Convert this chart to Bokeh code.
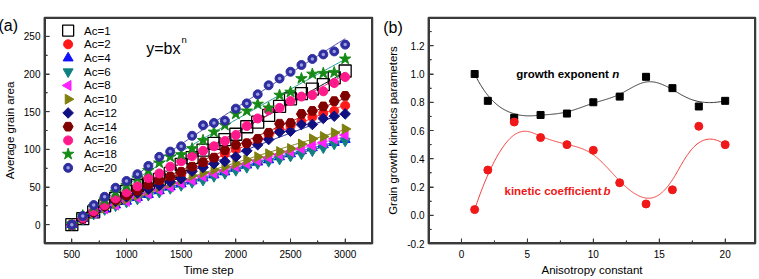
import numpy as np
from bokeh.plotting import figure
from bokeh.layouts import row
from bokeh.models import FixedTicker, PrintfTickFormatter, Label, Range1d
from bokeh.embed import file_html
from bokeh.resources import INLINE

FONT = "Liberation Sans"

# ---------------- data: panel (a) ----------------
time_steps = [500, 600, 700, 800, 900, 1000, 1100, 1200, 1300, 1400, 1500, 1600, 1700,
              1800, 1900, 2000, 2100, 2200, 2300, 2400, 2500, 2600, 2700, 2800, 2900, 3000]

area_ac1 = [0, 8, 17, 25, 35, 44, 52, 54, 60, 68, 80, 89, 99, 108, 113, 120, 130, 136,
            145, 157, 167, 174, 180, 186, 195, 204]
area_ac2 = [0, 8, 16, 23, 30, 36, 42, 48, 54, 60, 66, 72, 79, 88, 94, 100, 108, 113,
            119, 126, 131, 137, 143, 148, 151, 158]
area_ac4 = [0, 8, 15, 21, 26, 31, 36, 40, 45, 50, 54, 58, 62, 66, 70, 75, 79, 83,
            86, 90, 94, 98, 102, 106, 109, 113]
area_ac6 = [0, 7, 14, 20, 25, 30, 34, 39, 43, 48, 52, 56, 59, 64, 68, 72, 76, 81,
            84, 87, 91, 94, 98, 102, 107, 111]
area_ac8 = [0, 8, 15, 21, 26, 31, 36, 41, 46, 50, 55, 59, 64, 68, 72, 77, 81, 85,
            89, 93, 97, 101, 105, 109, 114, 119]
area_ac10 = [0, 8, 15, 22, 28, 34, 39, 45, 50, 55, 60, 65, 69, 73, 77, 81, 86, 90,
             94, 97, 101, 107, 114, 117, 122, 127]
area_ac12 = [0, 8, 16, 24, 31, 37, 42, 47, 52, 57, 61, 71, 76, 81, 84, 90, 98, 106,
             113, 123, 124, 133, 133, 141, 144, 147]
area_ac14 = [0, 8, 17, 25, 33, 39, 45, 53, 59, 64, 70, 77, 83, 89, 99, 106, 108, 114,
             122, 134, 135, 147, 151, 157, 164, 171]
area_ac16 = [0, 9, 18, 26, 35, 43, 51, 62, 68, 77, 84, 91, 98, 104, 111, 119, 131, 141,
             152, 155, 164, 170, 172, 177, 188, 196]
area_ac18 = [0, 12, 24, 33, 43, 52, 62, 72, 82, 90, 93, 101, 112, 123, 132, 147, 151, 160,
             155, 172, 176, 194, 200, 201, 202, 220]
area_ac20 = [0, 11.5, 26, 37, 49, 58, 67, 78, 90, 97, 104, 118, 132, 135, 138, 154, 161,
             173, 185, 194, 203, 212, 220, 226, 230, 239]

legend_labels = ["Ac=1", "Ac=2", "Ac=4", "Ac=6", "Ac=8", "Ac=10", "Ac=12", "Ac=14",
                 "Ac=16", "Ac=18", "Ac=20"]

# ---------------- data: panel (b) ----------------
anisotropy = [1, 2, 4, 6, 8, 10, 12, 14, 16, 18, 20]
growth_exponent_n = [1.00, 0.81, 0.69, 0.71, 0.72, 0.80, 0.84, 0.98, 0.90, 0.77, 0.81]
kinetic_coeff_b = [0.04, 0.32, 0.66, 0.55, 0.50, 0.46, 0.23, 0.08, 0.18, 0.63, 0.50]

# ---------------- ticks ----------------
a_xticks = [500, 1000, 1500, 2000, 2500, 3000]
a_xminor = [750, 1250, 1750, 2250, 2750]
a_yticks = [0, 50, 100, 150, 200, 250]
a_yminor = [25, 75, 125, 175, 225]
b_xticks = [0, 5, 10, 15, 20]
b_xminor = [2.5, 7.5, 12.5, 17.5]
b_yticks = [-0.2, 0.0, 0.2, 0.4, 0.6, 0.8, 1.0, 1.2]
b_yminor = [-0.1, 0.1, 0.3, 0.5, 0.7, 0.9, 1.1, 1.3]

AXIS_COLOR = "#3a3a3a"

# ---------------- layout (pixels) ----------------
A_W, A_H = 380, 279
A_BL, A_BR, A_BT, A_BB = 43, 8, 1, 36
A_X = (250, 3250)
A_Y = (-25, 275)
B_W, B_H = 379, 279
B_BL, B_BR, B_BT, B_BB = 48, 4, 1, 32
B_X = (-2.5, 22.3)
B_Y = (-0.2, 1.4)


def px_to_data(px, py, W, H, bl, br, bt, bb, xr, yr):
    """Convert a pixel position on a figure's canvas to its data coordinates."""
    fw = W - bl - br
    fh = H - bt - bb
    x = xr[0] + (px - bl) / fw * (xr[1] - xr[0])
    y = yr[1] - (py - bt) / fh * (yr[1] - yr[0])
    return x, y


def pa_xy(px, py):
    return px_to_data(px, py, A_W, A_H, A_BL, A_BR, A_BT, A_BB, A_X, A_Y)


def pb_xy(px, py):
    return px_to_data(px, py, B_W, B_H, B_BL, B_BR, B_BT, B_BB, B_X, B_Y)


def style_axes(p, W, H, bl, br, bt, bb, xr, yr, xt, xm, yt, ym):
    p.outline_line_color = AXIS_COLOR
    p.outline_line_width = 1.5
    p.xgrid.visible = False
    p.ygrid.visible = False
    p.xaxis.ticker = FixedTicker(ticks=xt, minor_ticks=xm)
    p.yaxis.ticker = FixedTicker(ticks=yt, minor_ticks=ym)
    for ax in (p.xaxis[0], p.yaxis[0]):
        ax.axis_line_color = AXIS_COLOR
        ax.axis_line_width = 1.5
        ax.major_tick_in = 5
        ax.major_tick_out = 0
        ax.minor_tick_in = 3
        ax.minor_tick_out = 0
        ax.major_tick_line_color = AXIS_COLOR
        ax.minor_tick_line_color = AXIS_COLOR
        ax.major_label_text_font = FONT
        ax.major_label_text_font_size = "10px"
        ax.major_label_text_color = "black"
        ax.axis_label_text_font = FONT
        ax.axis_label_text_font_size = "11.5px"
        ax.axis_label_text_font_style = "normal"
        ax.axis_label_text_color = "black"
    p.xaxis[0].major_label_standoff = 6
    p.yaxis[0].major_label_standoff = 4
    p.xaxis[0].axis_label_standoff = 3
    p.yaxis[0].axis_label_standoff = 5
    # frame box and inward ticks drawn as glyphs (clipped to the frame)
    fw = W - bl - br
    fh = H - bt - bb
    ux = (xr[1] - xr[0]) / fw   # data units per pixel
    uy = (yr[1] - yr[0]) / fh
    p.line([xr[0], xr[1], xr[1], xr[0], xr[0]], [yr[0], yr[0], yr[1], yr[1], yr[0]],
           line_color=AXIS_COLOR, line_width=3)
    for ticks, ln in ((xt, 5), (xm, 3)):
        p.segment(x0=ticks, x1=ticks, y0=[yr[0]] * len(ticks),
                  y1=[yr[0] + ln * uy] * len(ticks), line_color=AXIS_COLOR, line_width=1)
    for ticks, ln in ((yt, 5), (ym, 3)):
        p.segment(x0=[xr[0]] * len(ticks), x1=[xr[0] + ln * ux] * len(ticks),
                  y0=ticks, y1=ticks, line_color=AXIS_COLOR, line_width=1)


def add_text(p, x, y, text, size="11.5px", style="normal", color="black",
             baseline="middle", x_offset=0, units="data", place="center"):
    lab = Label(x=x, y=y, x_units=units, y_units=units, text=text,
                text_font=FONT, text_font_size=size, text_font_style=style,
                text_color=color, text_baseline=baseline, text_align="left",
                x_offset=x_offset)
    p.add_layout(lab, place)


def bspline(xc, yc, num=400, k=3):
    """Clamped uniform B-spline using the data points as control points."""
    P = np.column_stack([xc, yc]).astype(float)
    n = len(P)
    inner = np.arange(1, n - k)
    knots = np.concatenate([np.zeros(k + 1), inner, np.full(k + 1, n - k)]).astype(float)
    ts = np.linspace(0, n - k, num)
    out = []
    for t in ts:
        N = np.zeros(len(knots) - 1)
        for i in range(len(knots) - 1):
            if knots[i] <= t < knots[i + 1] or (t == knots[-1] and knots[i] < t <= knots[i + 1]):
                N[i] = 1.0
        for d in range(1, k + 1):
            Nn = np.zeros(len(knots) - d - 1)
            for i in range(len(knots) - d - 1):
                a = 0.0
                if knots[i + d] != knots[i]:
                    a = (t - knots[i]) / (knots[i + d] - knots[i]) * N[i]
                b = 0.0
                if knots[i + d + 1] != knots[i + 1]:
                    b = (knots[i + d + 1] - t) / (knots[i + d + 1] - knots[i + 1]) * N[i + 1]
                Nn[i] = a + b
            N = Nn
        out.append(N[:n] @ P)
    out = np.array(out)
    return out[:, 0], out[:, 1]


# ================= panel (a) =================
pa = figure(width=A_W, height=A_H, output_backend="svg", toolbar_location=None,
            x_range=Range1d(*A_X), y_range=Range1d(*A_Y),
            min_border_left=A_BL, min_border_right=A_BR, min_border_top=A_BT,
            min_border_bottom=A_BB)
style_axes(pa, A_W, A_H, A_BL, A_BR, A_BT, A_BB, A_X, A_Y,
           a_xticks, a_xminor, a_yticks, a_yminor)
pa.xaxis.axis_label = "Time step"
pa.yaxis.axis_label = "Average grain area"

# (values, marker, line colour, fill colour, size, angle, fit-line colour)
series = [
    (area_ac1, "square", "black", None, 12, 0, "black"),
    (area_ac2, "circle", "#ff1a1a", "#ff1a1a", 9, 0, "#ff2020"),
    (area_ac4, "triangle", "#1010ff", "#1010ff", 10, 0, "#2020ff"),
    (area_ac6, "inverted_triangle", "#0f8080", "#0f8080", 10, 0, "#108080"),
    (area_ac8, "triangle", "#ff20ff", "#ff20ff", 10, np.pi / 2, "#ff30ff"),
    (area_ac10, "triangle", "#808010", "#808010", 10, -np.pi / 2, "#808020"),
    (area_ac12, "square", "#101080", "#101080", 7.5, np.pi / 4, "#202090"),
    (area_ac14, "hex", "#800000", "#800000", 10, 0, "#901010"),
    (area_ac16, "circle", "#ff1a8c", "#ff1a8c", 9, 0, "#ff2090"),
    (area_ac18, "star", "#158a15", "#158a15", 12, 0, "#209a90"),
    (area_ac20, "circle", "#2e2ea0", "#2e2ea0", 9, 0, "#4a4ab0"),
]

t_arr = np.array(time_steps, dtype=float)
t_dense = np.linspace(500, 3000, 200)
for (ys, marker, col, fill, size, ang, lcol) in series:
    ya = np.array(ys, dtype=float)
    nfit, lnb = np.polyfit(np.log(t_arr[1:] - 500), np.log(ya[1:]), 1)
    pa.line(t_dense, np.exp(lnb) * (t_dense - 500) ** nfit, line_color=lcol, line_width=1)


def draw_marker(p, xs, ys, marker, col, fill, size, ang):
    if fill is None:
        p.scatter(xs, ys, marker=marker, size=size, line_color=col, fill_alpha=0,
                  line_width=1.3, angle=ang)
    else:
        p.scatter(xs, ys, marker=marker, size=size, line_color=col, fill_color=fill,
                  line_width=1, angle=ang)


for (ys, marker, col, fill, size, ang, lcol) in series:
    draw_marker(pa, time_steps, ys, marker, col, fill, size, ang)
pa.scatter(time_steps, area_ac20, marker="circle", size=3.5, fill_color="#b8b8f0",
           line_alpha=0, fill_alpha=0.8)

# hand-built legend (top-left, inside the frame)
LEG_GLYPH_PX, LEG_TEXT_PX, LEG_TOP_PX, LEG_ROW_PX = 66.7, 82.7, 15.0, 14.7
for i, ((ys, marker, col, fill, size, ang, lcol), lab) in enumerate(zip(series, legend_labels)):
    gx, gy = pa_xy(LEG_GLYPH_PX, LEG_TOP_PX + i * LEG_ROW_PX)
    tx, _ = pa_xy(LEG_TEXT_PX, 0)
    lsize = 11 if marker == "square" and fill is None else size
    draw_marker(pa, [gx], [gy], marker, col, fill, lsize, ang)
    if lab == "Ac=20":
        pa.scatter([gx], [gy], marker="circle", size=3.5, fill_color="#b8b8f0",
                   line_alpha=0, fill_alpha=0.8)
    add_text(pa, tx, gy, lab)

fx, fy = pa_xy(145, 34.3)
add_text(pa, fx, fy, "y=bx", size="16px", baseline="alphabetic")
sx, sy = pa_xy(180.5, 24.5)
add_text(pa, sx, sy, "n", size="9.5px", baseline="alphabetic")
# panel letter in the panel above the frame: screen units from the frame's
# top-left corner, y measured upwards
add_text(pa, -3 - A_BL, A_BT - 8.5, "(a)", size="16px", units="screen", place="above")

# ================= panel (b) =================
pb = figure(width=B_W, height=B_H, output_backend="svg", toolbar_location=None,
            x_range=Range1d(*B_X), y_range=Range1d(*B_Y),
            min_border_left=B_BL, min_border_right=B_BR, min_border_top=B_BT,
            min_border_bottom=B_BB)
style_axes(pb, B_W, B_H, B_BL, B_BR, B_BT, B_BB, B_X, B_Y,
           b_xticks, b_xminor, b_yticks, b_yminor)
pb.xaxis.axis_label = "Anisotropy constant"
pb.yaxis.axis_label = "Grain growth kinetics parameters"
pb.yaxis.formatter = PrintfTickFormatter(format="%.1f")

bx_n, by_n = bspline(anisotropy, growth_exponent_n)
bx_b, by_b = bspline(anisotropy, kinetic_coeff_b)
pb.line(bx_n, by_n, line_color="#333333", line_width=1)
pb.line(bx_b, by_b, line_color="#f03c3c", line_width=1)
pb.scatter(anisotropy, growth_exponent_n, marker="square", size=7, fill_color="black",
           line_color="black")
pb.scatter(anisotropy, kinetic_coeff_b, marker="circle", size=8, fill_color="#f01818",
           line_color="#f01818")

gx_, gy_ = pb_xy(515.7 - 380, 62.5)
add_text(pb, gx_, gy_, "growth exponent", style="bold")
add_text(pb, gx_, gy_, "n", style="bold italic", x_offset=96)
kx_, ky_ = pb_xy(504 - 380, 189.5)
add_text(pb, kx_, ky_, "kinetic coefficient", style="bold", color="#f01818")
add_text(pb, kx_, ky_, "b", style="bold italic", color="#f01818", x_offset=99)
add_text(pb, 2.7 - B_BL, B_BT - 10.5, "(b)", size="16px", units="screen", place="above")

layout = row(pa, pb, spacing=0)
with open("out.html", "w") as f:
    f.write(file_html(layout, INLINE))
